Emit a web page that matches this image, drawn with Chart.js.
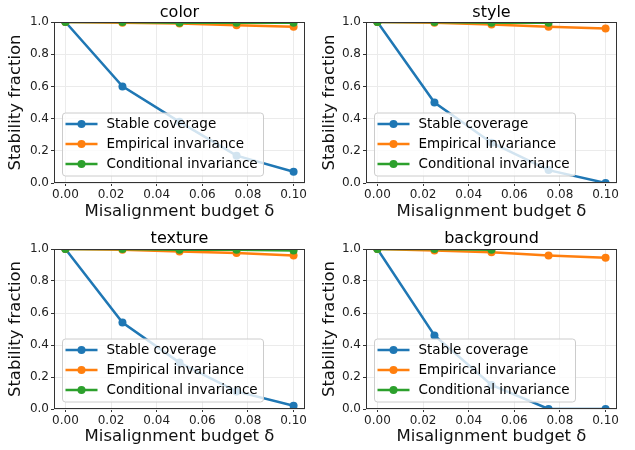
<!DOCTYPE html>
<html>
<head>
<meta charset="utf-8">
<script src="https://cdn.jsdelivr.net/npm/chart.js@4.4.0/dist/chart.umd.min.js"></script>
<style>
  body { margin: 0; background: #fff; }
  #wrap { position: relative; width: 635px; height: 450px; }
  #wrap canvas { position: absolute; }
</style>
</head>
<body>
<div id="wrap"></div>
<script>
// x values (misalignment budget) and tick labels
const deltas = [0, 0.025, 0.05, 0.075, 0.1];
const xTicks = [0, 0.02, 0.04, 0.06, 0.08, 0.10];
const yTicks = [0, 0.2, 0.4, 0.6, 0.8, 1.0];
const seriesNames = ['Stable coverage', 'Empirical invariance', 'Conditional invariance'];
const seriesColors = ['#1f77b4', '#ff7f0e', '#2ca02c'];
const panelTitles = ['color', 'style', 'texture', 'background'];

// values (null = no point)
const colorStable      = [1.0, 0.60, 0.38, 0.17, 0.07];
const colorEmpirical   = [1.0, 0.995, 0.99, 0.98, 0.97];
const colorConditional = [1.0, 1.0, 0.995, 0.995, 0.995];

const styleStable      = [1.0, 0.50, 0.25, 0.08, 0.0];
const styleEmpirical   = [1.0, 0.995, 0.985, 0.97, 0.96];
const styleConditional = [1.0, 1.0, 0.995, 0.995, null];

const textureStable      = [1.0, 0.54, 0.29, 0.11, 0.02];
const textureEmpirical   = [1.0, 0.995, 0.985, 0.975, 0.96];
const textureConditional = [1.0, 1.0, 0.995, 0.995, 0.99];

const backgroundStable      = [1.0, 0.46, 0.15, 0.0, 0.0];
const backgroundEmpirical   = [1.0, 0.99, 0.98, 0.96, 0.945];
const backgroundConditional = [1.0, 1.0, 0.995, null, null];

const panelData = [
  [colorStable, colorEmpirical, colorConditional],
  [styleStable, styleEmpirical, styleConditional],
  [textureStable, textureEmpirical, textureConditional],
  [backgroundStable, backgroundEmpirical, backgroundConditional]
];

// canvas boxes and plot areas (px, relative to canvas)
const panels = [
  { x: 0,   y: 0,   w: 317, h: 225, left: 54, top: 22, right: 305, bottom: 183, titleY: 12.5, yTitlePad: 7.5 },
  { x: 317, y: 0,   w: 318, h: 225, left: 49, top: 22, right: 300, bottom: 183, titleY: 12.5, yTitlePad: 4 },
  { x: 0,   y: 225, w: 317, h: 225, left: 54, top: 24, right: 305, bottom: 184, titleY: 14, yTitlePad: 7.5 },
  { x: 317, y: 225, w: 318, h: 225, left: 49, top: 24, right: 300, bottom: 184, titleY: 14, yTitlePad: 4 }
];

const FONT = "'DejaVu Sans', sans-serif";

// frame, title and legend drawn on top
const framePlugin = {
  id: 'frame',
  afterDatasetsDraw(chart, args, opts) {
    const a = chart.chartArea;
    const ctx = chart.ctx;
    ctx.save();
    ctx.strokeStyle = '#333';
    ctx.lineWidth = 1;
    ctx.strokeRect(Math.round(a.left) + 0.5, Math.round(a.top) + 0.5,
      Math.round(a.right - a.left) - 1, Math.round(a.bottom - a.top) - 1);

    // title
    ctx.fillStyle = '#000';
    ctx.font = '16px ' + FONT;
    ctx.textAlign = 'center';
    ctx.textBaseline = 'middle';
    ctx.fillText(opts.title, (a.left + a.right) / 2, opts.titleY);

    // legend
    const bx = a.left + 8.5, bw = 201, bh = 63, by = a.bottom - 7 - bh;
    ctx.beginPath();
    ctx.roundRect(bx, by, bw, bh, 3);
    ctx.fillStyle = 'rgba(255,255,255,0.8)';
    ctx.fill();
    ctx.strokeStyle = '#cccccc';
    ctx.lineWidth = 1;
    ctx.stroke();
    ctx.font = '13.5px ' + FONT;
    ctx.textAlign = 'left';
    seriesNames.forEach((name, i) => {
      const cy = by + 11 + i * 20;
      ctx.strokeStyle = seriesColors[i];
      ctx.lineWidth = 2.5;
      ctx.beginPath();
      ctx.moveTo(bx + 3, cy);
      ctx.lineTo(bx + 35, cy);
      ctx.stroke();
      ctx.fillStyle = seriesColors[i];
      ctx.beginPath();
      ctx.arc(bx + 19, cy, 4, 0, Math.PI * 2);
      ctx.fill();
      ctx.fillStyle = '#000';
      ctx.fillText(name, bx + 44, cy + 0.5);
    });
    ctx.restore();
  }
};

const wrap = document.getElementById('wrap');

panels.forEach((p, k) => {
  const canvas = document.createElement('canvas');
  canvas.width = p.w;
  canvas.height = p.h;
  canvas.style.left = p.x + 'px';
  canvas.style.top = p.y + 'px';
  canvas.style.width = p.w + 'px';
  canvas.style.height = p.h + 'px';
  wrap.appendChild(canvas);

  const datasets = panelData[k].map((vals, i) => ({
    label: seriesNames[i],
    data: deltas.map((d, j) => ({ x: d, y: vals[j] })).filter(pt => pt.y !== null),
    borderColor: seriesColors[i],
    backgroundColor: seriesColors[i],
    borderWidth: 2.5,
    pointRadius: 4,
    pointBorderWidth: 0,
    pointHoverRadius: 4,
    tension: 0,
    order: 3 - i
  }));

  new Chart(canvas, {
    type: 'line',
    data: { datasets },
    plugins: [framePlugin],
    options: {
      responsive: false,
      animation: false,
      events: [],
      layout: { padding: { left: 0, top: p.top, right: p.w - p.right, bottom: 0 } },
      plugins: {
        legend: { display: false },
        tooltip: { enabled: false },
        frame: { title: panelTitles[k], titleY: p.titleY }
      },
      scales: {
        x: {
          type: 'linear',
          min: -0.005,
          max: 0.105,
          afterFit: s => { s.height = p.h - p.bottom; },
          afterBuildTicks: s => { s.ticks = xTicks.map(v => ({ value: v })); },
          border: { display: false },
          grid: { color: '#ebebeb', lineWidth: 1, tickLength: 3, tickColor: '#333' },
          ticks: {
            callback: v => v.toFixed(2),
            font: { family: FONT, size: 12 },
            color: '#222',
            padding: 2,
            maxRotation: 0,
            autoSkip: false
          },
          title: {
            display: true,
            text: 'Misalignment budget δ',
            font: { family: FONT, size: 16.5, lineHeight: 1 },
            color: '#111',
            padding: { top: 0, bottom: 4.75 }
          }
        },
        y: {
          min: 0,
          max: 1,
          afterFit: s => { s.width = p.left; },
          afterBuildTicks: s => { s.ticks = yTicks.map(v => ({ value: v })); },
          border: { display: false },
          grid: { color: '#ebebeb', lineWidth: 1, tickLength: 3, tickColor: '#333' },
          ticks: {
            callback: v => v.toFixed(1),
            font: { family: FONT, size: 12 },
            color: '#222',
            padding: 2
          },
          title: {
            display: true,
            text: 'Stability fraction',
            font: { family: FONT, size: 16.5, lineHeight: 1 },
            color: '#111',
            padding: { top: p.yTitlePad, bottom: 0 }
          }
        }
      }
    }
  });
});
</script>
</body>
</html>
